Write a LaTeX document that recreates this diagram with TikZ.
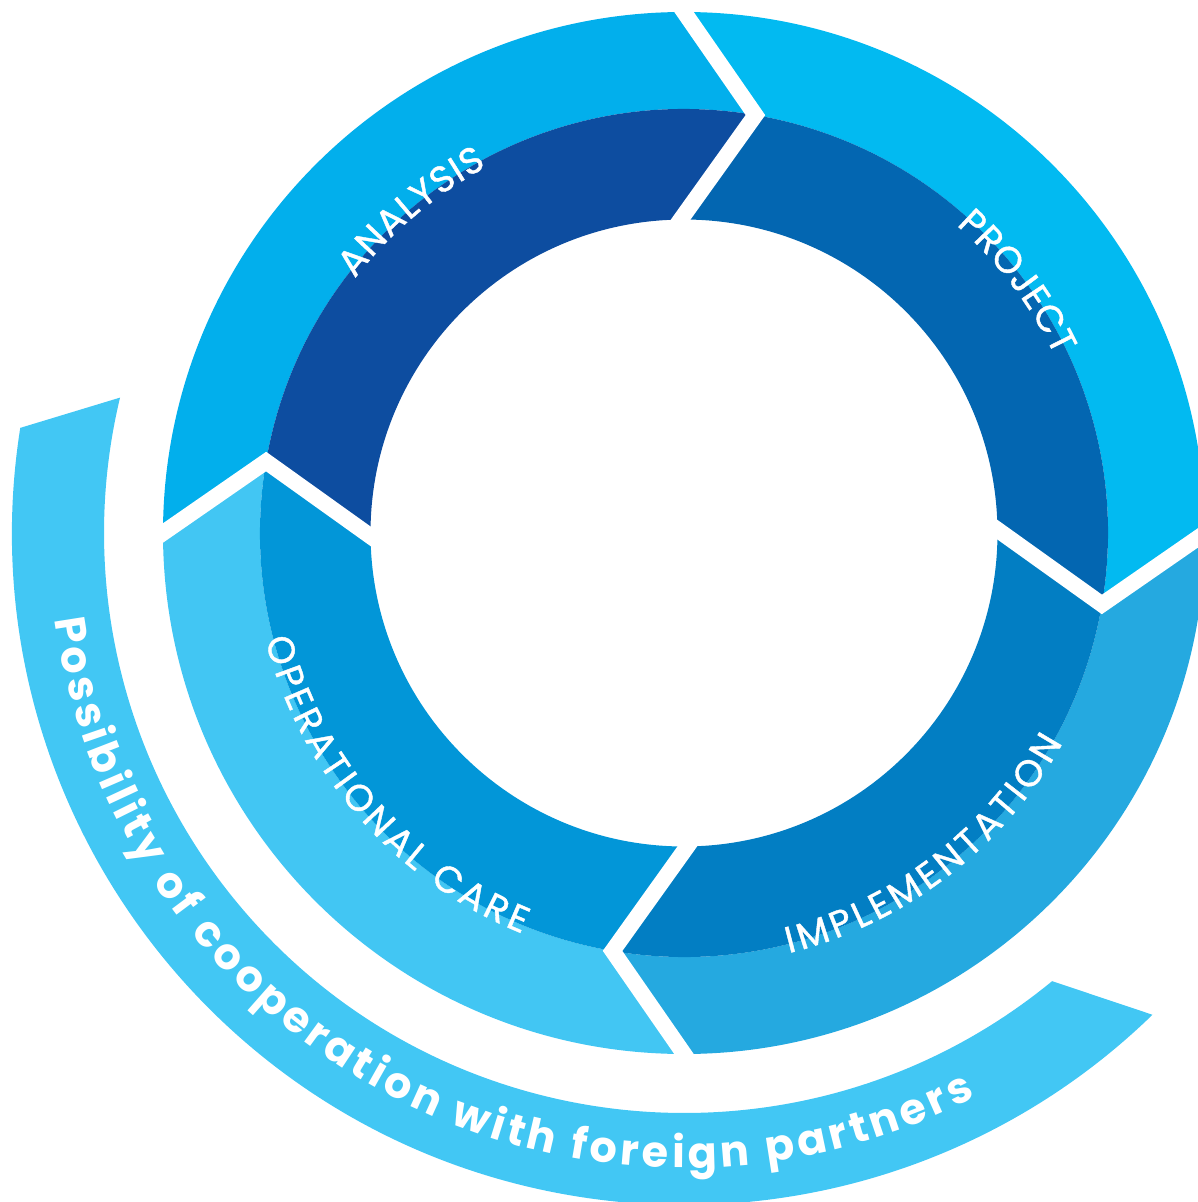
\documentclass[tikz,border=0pt]{standalone}
\usepackage{fontspec}
\newfontfamily\popfont{Poppins}
\newfontfamily\poplab{Poppins}[FakeBold=1.1]
\usetikzlibrary{calc,decorations.text}
\definecolor{anaO}{HTML}{02AFEC}
\definecolor{anaI}{HTML}{0D4DA0}
\definecolor{proO}{HTML}{02BAF1}
\definecolor{proI}{HTML}{0366B1}
\definecolor{impO}{HTML}{25A9E0}
\definecolor{impI}{HTML}{027EC3}
\definecolor{opO}{HTML}{42C6F3}
\definecolor{opI}{HTML}{0296D8}
\definecolor{bandC}{HTML}{42C7F4}
\tikzset{
  gapline/.style={draw=white,line width=16,line join=miter,line cap=butt},
  ringlabel/.style={decorate,decoration={text along path,text align={fit to path},text color=white,
     text={|\poplab\fontsize{37}{37}\selectfont|#1}}},
  bandlabel/.style={decorate,decoration={text along path,text align={fit to path},text color=white,
     text={|\popfont\bfseries\fontsize{43}{43}\selectfont|#1}}}
}
\begin{document}
\begin{tikzpicture}[x=1pt,y=1pt]
\useasboundingbox (-684,-669) rectangle (514,533);
\clip (-684,-669) rectangle (514,533);
% outer band
\fill[bandC] (171:672) arc[start angle=171,end angle=314.2,radius=672]
   -- (309.4:580) arc[start angle=309.4,end angle=166.5,radius=580] -- cycle;
% ring segments
\foreach \b/\co/\ci in {90/anaO/anaI,0/proO/proI,-90/impO/impI,180/opO/opI}{
  \pgfmathsetmacro\a{\b+90}
  \pgfmathsetmacro\bt{\b-9.7}
  \pgfmathsetmacro\at{\a-9.7}
  \pgfmathsetmacro\bi{\b+0.6}
  \pgfmathsetmacro\ai{\a+0.6}
  \fill[\co] (\a:521) arc[start angle=\a,end angle=\b,radius=521]
     -- (\bt:424) arc[start angle=\bt,end angle=\at,radius=424] -- cycle;
  \fill[\ci] (\bt:424) -- (\bi:313.5) arc[start angle=\bi,end angle=\ai,radius=313.5]
     -- (\at:424) arc[start angle=\at,end angle=\bt,radius=424] -- cycle;
}
% chevron gaps
\foreach \t/\n in {90/top,0/right,-90/bottom,180/left}{
  \pgfmathsetmacro\tt{\t-9.7}
  \pgfmathsetmacro\ti{\t+0.6}
  \coordinate (o\n) at (\t:521);
  \coordinate (m\n) at (\tt:424);
  \coordinate (i\n) at (\ti:313.5);
  \draw[gapline] ($(m\n)!1.25!(o\n)$) -- (m\n) -- ($(m\n)!1.1!(i\n)$);
}
% labels
\path[ringlabel=ANALYSIS] (142.3:416) arc[start angle=142.3,end angle=118.3,radius=416];
\path[ringlabel=PROJECT] (48.5:411) arc[start angle=48.5,end angle=25.5,radius=411];
\path[ringlabel=IMPLEMENTATION] (-76:433) arc[start angle=-76,end angle=-29,radius=433];
\path[ringlabel=OPERATIONAL CARE] (194.3:432) arc[start angle=194.3,end angle=248,radius=432];
\path[bandlabel=Possibility of cooperation with foreign partners] (187.8:635) arc[start angle=187.8,end angle=297.3,radius=635];
\end{tikzpicture}
\end{document}
